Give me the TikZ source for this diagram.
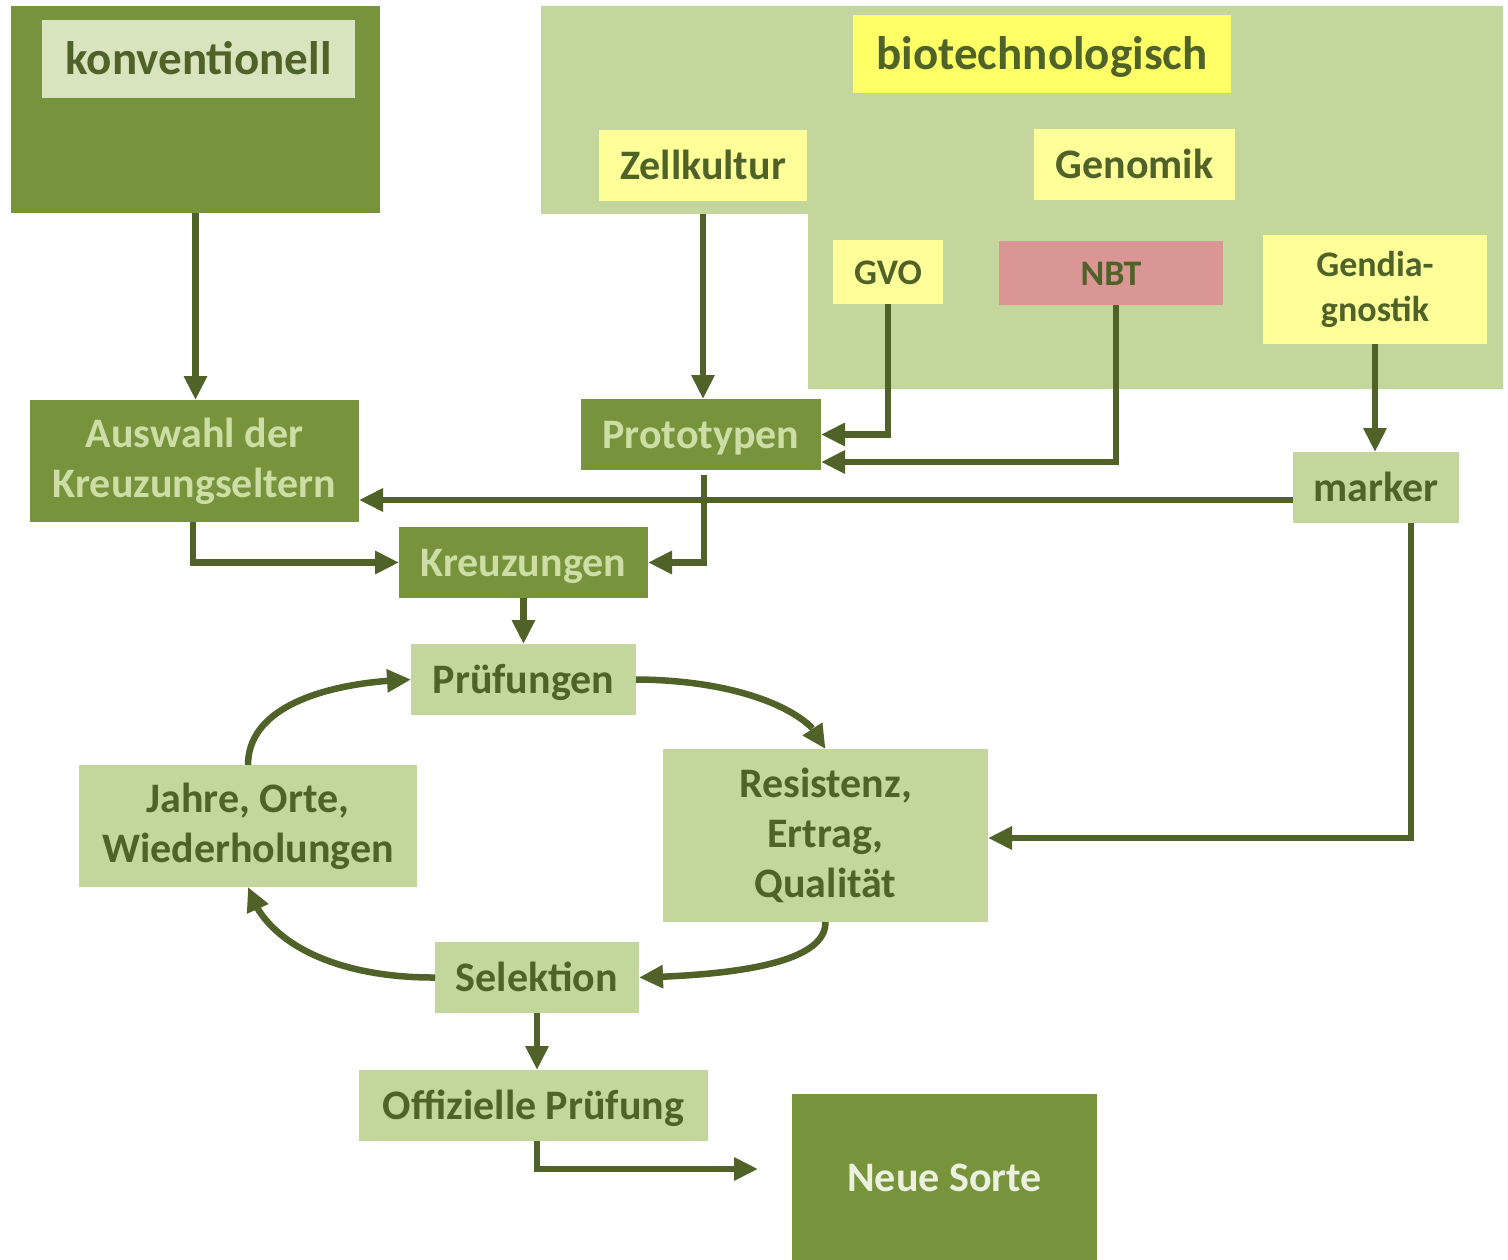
\documentclass[tikz,border=0pt]{standalone}
\usepackage{fontspec}
\setmainfont{Carlito}
\usetikzlibrary{arrows.meta,bending,calc}
\definecolor{dkgreen}{HTML}{77933C}
\definecolor{ltgreen}{HTML}{C3D69B}
\definecolor{palegreen}{HTML}{D7E4BD}
\definecolor{txtdark}{HTML}{4F6228}
\definecolor{txtlight}{HTML}{CCDEA6}
\definecolor{txtwhite}{HTML}{EBF1DE}
\definecolor{yel}{HTML}{FFFF66}
\definecolor{paleyel}{HTML}{FFFF99}
\definecolor{pink}{HTML}{D99694}
\definecolor{arrcol}{HTML}{4F6228}
\tikzset{
  box/.style={inner sep=0pt, outer sep=0pt, align=center, anchor=center, draw=none},
  big/.style={font=\bfseries\fontsize{47}{56}\selectfont},
  mid/.style={font=\bfseries\fontsize{42}{50}\selectfont},
  small/.style={font=\bfseries\fontsize{36}{45}\selectfont},
  oneb/.style={text height=32pt, text depth=0pt},
  onem/.style={text height=28pt, text depth=0pt},
  ones/.style={text height=24pt, text depth=0pt},
  darkbox/.style={box, fill=dkgreen, text=txtlight, mid},
  lightbox/.style={box, fill=ltgreen, text=txtdark, mid},
  yelbox/.style={box, fill=paleyel, text=txtdark},
  arr/.style={draw=arrcol, line width=6.5pt, -{Triangle[width=22pt,length=24pt]}},
}
\begin{document}
\begin{tikzpicture}[x=1pt,y=-1pt]
\useasboundingbox (0,0) rectangle (1508,1260);
\fill[white] (0,0) rectangle (1508,1260);
% backgrounds
\node[box, fill=dkgreen, minimum width=369pt, minimum height=207pt] (konvbg) at (195.5,109.5) {};
\fill[ltgreen] (541,6) -- (1503,6) -- (1503,389) -- (808,389) -- (808,214) -- (541,214) -- cycle;
% labels
\node[box, fill=palegreen, text=txtdark, big, oneb, minimum width=313pt, minimum height=78pt] (konv) at (198.5,59) {konventionell};
\node[box, fill=yel, text=txtdark, big, oneb, minimum width=378pt, minimum height=78pt] (bio) at (1042,54) {biotechnologisch};
\node[yelbox, mid, onem, minimum width=208pt, minimum height=71pt] (zell) at (703,165.5) {Zellkultur};
\node[yelbox, mid, onem, minimum width=201pt, minimum height=71pt] (genom) at (1134.5,164.5) {Genomik};
\node[yelbox, small, ones, minimum width=110pt, minimum height=64pt] (gvo) at (888,272) {GVO};
\node[box, fill=pink, text=txtdark, small, ones, minimum width=224pt, minimum height=64pt] (nbt) at (1111,273) {NBT};
\node[yelbox, small, minimum width=224pt, minimum height=109pt] (gendia) at (1375,289.5) {Gendia-\\gnostik};
% main boxes
\node[darkbox, minimum width=329pt, minimum height=122pt] (ausw) at (194.5,461) {Auswahl der\\Kreuzungseltern};
\node[darkbox, onem, minimum width=240pt, minimum height=71pt] (proto) at (701,434.5) {Prototypen};
\node[lightbox, onem, minimum width=166pt, minimum height=71pt] (marker) at (1376,487.5) {marker};
\node[darkbox, onem, minimum width=249pt, minimum height=71pt] (kreuz) at (523.5,562.5) {Kreuzungen};
\node[lightbox, onem, minimum width=225pt, minimum height=71pt] (pruef) at (523.5,679.5) {Prüfungen};
\node[lightbox, minimum width=338pt, minimum height=122pt] (jahre) at (248,826) {Jahre, Orte,\\Wiederholungen};
\node[lightbox, minimum width=325pt, minimum height=173pt] (resist) at (825.5,835.5) {Resistenz,\\Ertrag,\\Qualität};
\node[lightbox, onem, minimum width=204pt, minimum height=71pt] (selek) at (537,977.5) {Selektion};
\node[lightbox, onem, minimum width=349pt, minimum height=71pt] (offiz) at (533.5,1105.5) {Offizielle Prüfung};
\node[darkbox, onem, text=txtwhite, minimum width=305pt, minimum height=166pt] (neue) at (944.5,1177) {Neue Sorte};
\coordinate (nsend) at (758,1169);
% connectors
\draw[arr] (konvbg.south) -- (konvbg.south |- ausw.north);
\draw[arr, shorten <=13pt] (zell.south) -- (zell.south |- proto.north);
\draw[arr] (gvo.south) |- (proto.east);
\draw[arr] ([xshift=5pt]nbt.south) |- ([yshift=-27.5pt]proto.east);
\draw[arr] (gendia.south) -- (gendia.south |- marker.north);
\draw[arr] (marker.west |- 0,500) -- (ausw.east |- 0,500);
\draw[arr] ([xshift=3pt,yshift=-5pt]proto.south) |- (kreuz.east);
\draw[arr] ([xshift=-1.5pt]ausw.south) |- (kreuz.west);
\draw[arr] (kreuz.south) -- (pruef.north);
\draw[arr] ([xshift=35pt]marker.south) |- ([yshift=-2.5pt]resist.east);
\draw[arr] (pruef.east) .. controls (740,680) and (815,712) .. (resist.north);
\draw[arr] (resist.south) .. controls (826,962) and (740,975) .. (selek.east);
\draw[arr] (selek.west) .. controls (340,978) and (265,945) .. (jahre.south);
\draw[arr] (jahre.north) .. controls (248,705) and (330,682) .. (pruef.west);
\draw[arr] (selek.south) -- (selek.south |- offiz.north);
\draw[arr] ([xshift=3.5pt]offiz.south) |- (nsend);
\end{tikzpicture}
\end{document}
